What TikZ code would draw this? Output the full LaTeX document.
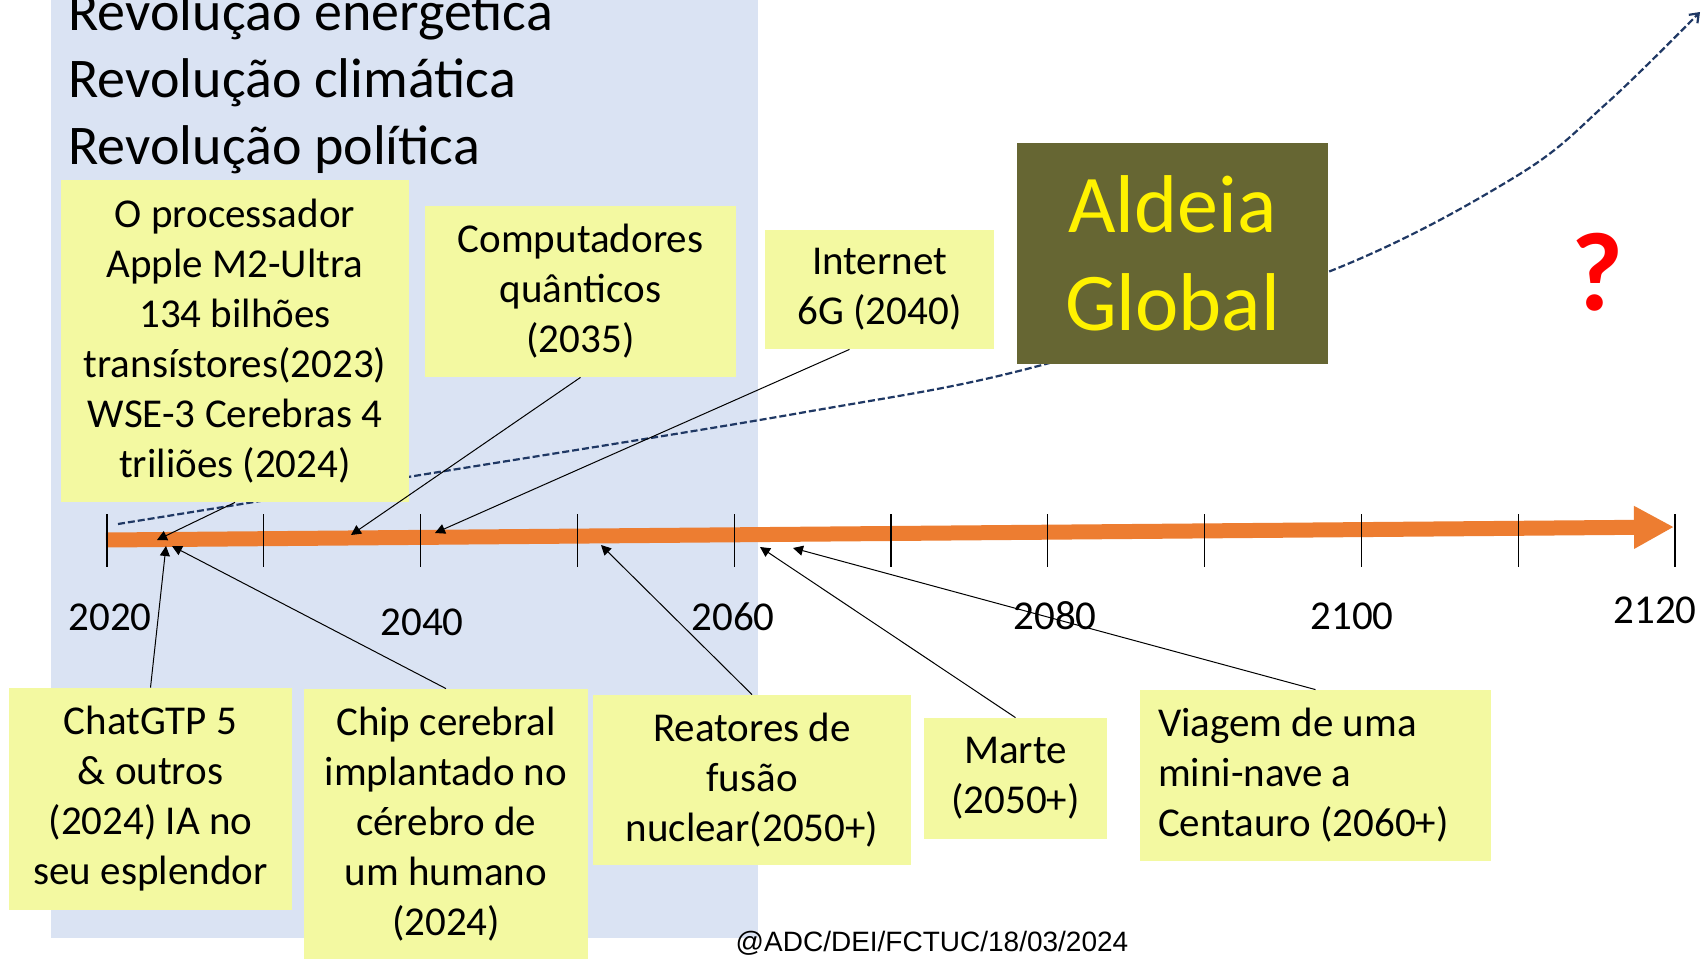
\documentclass[tikz,border=0pt]{standalone}
\usepackage{fontspec}
\setmainfont{Carlito}
\newfontfamily\footfont{Liberation Sans}
\usepackage{tikz}
\usetikzlibrary{arrows.meta}
\definecolor{bgblue}{RGB}{218,227,243}
\definecolor{notey}{RGB}{243,249,161}
\definecolor{aldeiabg}{RGB}{102,102,51}
\definecolor{tlorange}{RGB}{237,125,49}
\definecolor{trendblue}{RGB}{31,56,100}

\begin{document}
\begin{tikzpicture}[
  x=0.5pt, y=-0.5pt,
  note/.style={
    rectangle, fill=notey, inner sep=0pt, align=center,
    font=\fontsize{20.5pt}{25pt}\selectfont
  },
  year/.style={inner sep=0pt, font=\fontsize{20.5pt}{25pt}\selectfont},
  revol/.style={anchor=base west, inner sep=0pt, font=\fontsize{28pt}{33pt}\selectfont},
  pointer/.style={-{Triangle[length=5pt,width=5pt]}, line width=0.5pt, draw=black},
  trend/.style={-{Straight Barb[length=4pt,width=6pt]}, line width=1.1pt, draw=trendblue,
    dash pattern=on 3.5pt off 1.5pt},
  tick/.style={line width=0.6pt, draw=black}
]
\useasboundingbox (0,0) rectangle (1704,959);
\fill[white] (0,0) rectangle (1704,959);
% Background band
\fill[bgblue] (51,-5) rectangle (758,938);
\node[revol] (rev1) at (68,30)  {Revolução energética};
\node[revol] (rev2) at (68,97)  {Revolução climática};
\node[revol] (rev3) at (68,164) {Revolução política};
% Trend curve
\coordinate (trendA) at (118,524);
\coordinate (trendB) at (1700,12);
\draw[trend] plot[smooth, tension=0.6] coordinates {(trendA) (408,477) (800,413) (1042,365)
  (1328,272) (1515,177) (1607,103) (trendB)};
% Timeline
\coordinate (tlStart) at (106,540);
\coordinate (tlEnd)   at (1674,527);
\draw[tlorange, line width=7.5pt, -{Triangle[length=20pt,width=20pt]}] (tlStart) -- (tlEnd);
\foreach \k in {0,...,10}
  \draw[tick] ({107+156.8*\k},514) -- ({107+156.8*\k},567);
% Year labels
\node[year] (y2020) at (110,617)  {2020};
\node[year] (y2040) at (422,622)  {2040};
\node[year] (y2060) at (733,617)  {2060};
\node[year] (y2080) at (1055,616) {2080};
\node[year] (y2100) at (1352,616) {2100};
\node[year] (y2120) at (1655,610) {2120};
% Upper notes
\node[note, minimum width=174pt, minimum height=161pt] (proc) at (235,341)
  {O processador\\Apple M2-Ultra\\134 bilhões\\transístores(2023)\\WSE-3 Cerebras 4\\triliões (2024)};
\node[note, minimum width=155.5pt, minimum height=85.5pt] (quant) at (580.5,291.5)
  {Computadores\\quânticos\\(2035)};
\node[note, minimum width=114.5pt, minimum height=59.5pt] (inet) at (879.5,289.5)
  {Internet\\6G (2040)};
\node[rectangle, fill=aldeiabg, text=yellow, inner sep=0pt, align=center,
  minimum width=155.5pt, minimum height=110.5pt,
  font=\fontsize{41pt}{49pt}\selectfont] (aldeia) at (1172.5,253.5) {Aldeia\\Global};
\node[text=red, inner sep=0pt, font=\bfseries\fontsize{56pt}{60pt}\selectfont] (quest) at (1597,272) {?};
% Lower notes
\node[note, minimum width=141.5pt, minimum height=111pt] (chat) at (150.5,799)
  {ChatGTP 5\\\& outros\\(2024) IA no\\seu esplendor};
\node[note, minimum width=142pt, minimum height=135.5pt] (chip) at (446,824.5)
  {Chip cerebral\\implantado no\\cérebro de\\um humano\\(2024)};
\node[note, minimum width=159pt, minimum height=85pt] (fusao) at (752,780)
  {Reatores de\\fusão\\nuclear(2050+)};
\node[note, minimum width=91.5pt, minimum height=60.5pt] (marte) at (1015.5,778.5)
  {Marte\\(2050+)};
\node[note, align=flush left, text width=157.5pt, inner xsep=9pt, minimum height=85.5pt] (viagem)
  at (1315.5,775.5) {Viagem de uma\\mini-nave a\\Centauro (2060+)};
% Pointers
\coordinate (tProc)   at (157,540);
\coordinate (tQuant)  at (351,535);
\coordinate (tInet)   at (435,533);
\coordinate (tChat)   at (166,546);
\coordinate (tChip)   at (172,546);
\coordinate (tFusao)  at (601,545);
\coordinate (tMarte)  at (760,547);
\coordinate (tViagem) at (793,548);
\draw[pointer] (proc.south) -- (tProc);
\draw[pointer] (quant.south) -- (tQuant);
\draw[pointer] ([xshift=-15pt]inet.south) -- (tInet);
\draw[pointer] (chat.north) -- (tChat);
\draw[pointer] (chip.north) -- (tChip);
\draw[pointer] (fusao.north) -- (tFusao);
\draw[pointer] (marte.north) -- (tMarte);
\draw[pointer] (viagem.north) -- (tViagem);
% Footer
\node[inner sep=0pt, font=\footfont\fontsize{14pt}{16pt}\selectfont] (foot) at (932,943)
  {@ADC/DEI/FCTUC/18/03/2024};
\end{tikzpicture}
\end{document}
